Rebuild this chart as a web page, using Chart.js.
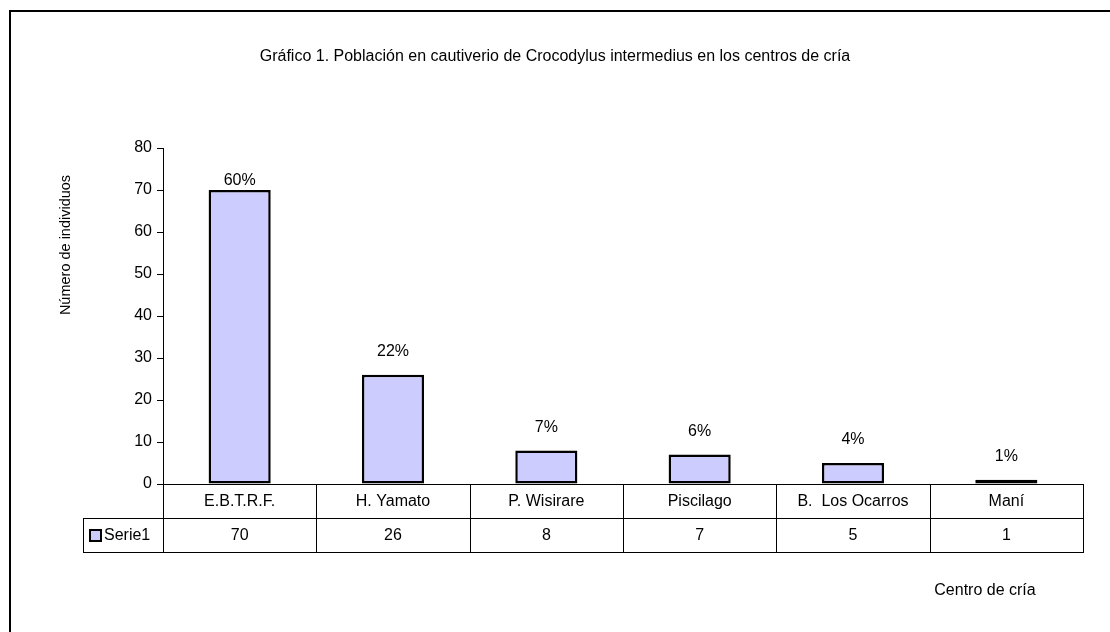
<!DOCTYPE html>
<html>
<head>
<meta charset="utf-8">
<script src="https://cdn.jsdelivr.net/npm/chart.js@4/dist/chart.umd.min.js"></script>
<style>
  html, body { margin: 0; padding: 0; background: #fff; }
  #wrap { width: 1110px; height: 632px; position: relative; }
</style>
</head>
<body>
<div id="wrap"><canvas id="c" width="1110" height="632"></canvas></div>
<script>
const categories = ['E.B.T.R.F.', 'H. Yamato', 'P. Wisirare', 'Piscilago', 'B.  Los Ocarros', 'Maní'];
const serie1 = [70, 26, 8, 7, 5, 1];
const percentLabels = ['60%', '22%', '7%', '6%', '4%', '1%'];
const yTicks = [0, 10, 20, 30, 40, 50, 60, 70, 80];
const seriesName = 'Serie1';
const titleText = 'Gráfico 1. Población en cautiverio de Crocodylus intermedius en los centros de cría';
const yTitle = 'Número de individuos';
const xTitle = 'Centro de cría';

const FONT = '"Liberation Sans", Arial, sans-serif';
const FILL = '#CCCCFF';

const decor = {
  id: 'decor',
  afterDraw(chart) {
    const ctx = chart.ctx;
    const x = chart.scales.x;
    const ca = chart.chartArea;
    ctx.save();
    // outer frame
    ctx.strokeStyle = '#000';
    ctx.lineWidth = 2;
    ctx.beginPath();
    ctx.moveTo(10, 640); ctx.lineTo(10, 11); ctx.lineTo(1120, 11);
    ctx.stroke();

    ctx.fillStyle = '#000';
    ctx.textAlign = 'center';
    ctx.textBaseline = 'middle';
    ctx.font = '16px ' + FONT;
    ctx.fillText(titleText, 555, 57);
    ctx.fillText(xTitle, 985, 591);
    ctx.save();
    ctx.font = '14.5px ' + FONT;
    ctx.translate(66, 245);
    ctx.rotate(-Math.PI / 2);
    ctx.fillText(yTitle, 0, 0);
    ctx.restore();

    // percent labels above bars
    ctx.font = '16px ' + FONT;
    const meta = chart.getDatasetMeta(0);
    meta.data.forEach((bar, i) => {
      const ly = Math.max(bar.y - 23, ca.top + 33);
      ctx.fillText(percentLabels[i], bar.x, ly);
    });

    // data table
    const n = categories.length;
    const step = (ca.right - ca.left) / n;
    const r0 = ca.bottom, r1 = ca.bottom + 34, r2 = ca.bottom + 68;
    const legL = 83;
    ctx.strokeStyle = '#000';
    ctx.lineWidth = 1;
    ctx.beginPath();
    ctx.moveTo(ca.left, r0 + 0.5); ctx.lineTo(ca.right, r0 + 0.5);
    ctx.moveTo(legL, r1 + 0.5); ctx.lineTo(ca.right, r1 + 0.5);
    ctx.moveTo(legL, r2 + 0.5); ctx.lineTo(ca.right, r2 + 0.5);
    ctx.moveTo(legL + 0.5, r1); ctx.lineTo(legL + 0.5, r2);
    for (let i = 0; i <= n; i++) {
      const xx = Math.round(ca.left + i * step) + 0.5;
      ctx.moveTo(xx, r0); ctx.lineTo(xx, r2 + 1);
    }
    ctx.stroke();

    ctx.font = '16px ' + FONT;
    categories.forEach((c, i) => {
      const cx = x.getPixelForValue(i);
      ctx.fillText(c, cx, (r0 + r1) / 2 + 1);
      ctx.fillText(String(serie1[i]), cx, (r1 + r2) / 2 + 1);
    });
    // legend key
    ctx.fillStyle = FILL;
    ctx.fillRect(90, 530, 11, 11);
    ctx.lineWidth = 2;
    ctx.strokeRect(90, 530, 11, 11);
    ctx.fillStyle = '#000';
    ctx.textAlign = 'left';
    ctx.fillText(seriesName, 104, (r1 + r2) / 2 + 1);
    ctx.restore();
  }
};

new Chart(document.getElementById('c'), {
  type: 'bar',
  data: {
    labels: categories,
    datasets: [{
      label: seriesName,
      data: serie1,
      backgroundColor: FILL,
      borderColor: '#000',
      borderWidth: 2.5,
      borderSkipped: false,
      categoryPercentage: 1,
      barPercentage: 0.405
    }]
  },
  options: {
    responsive: false,
    animation: false,
    devicePixelRatio: 1,
    layout: { padding: { left: 0, right: 27, top: 148, bottom: 148 } },
    plugins: { legend: { display: false }, tooltip: { enabled: false }, title: { display: false } },
    scales: {
      x: { display: false },
      y: {
        min: 0, max: 80,
        afterFit(s) { s.width = 163; },
        afterBuildTicks(s) { s.ticks = yTicks.map(v => ({ value: v })); },
        ticks: { color: '#000', font: { family: FONT, size: 16 }, padding: 5 },
        grid: { drawOnChartArea: false, tickLength: 6, color: '#000', tickColor: '#000' },
        border: { display: true, color: '#000', width: 1 }
      }
    }
  },
  plugins: [decor]
});
</script>
</body>
</html>
